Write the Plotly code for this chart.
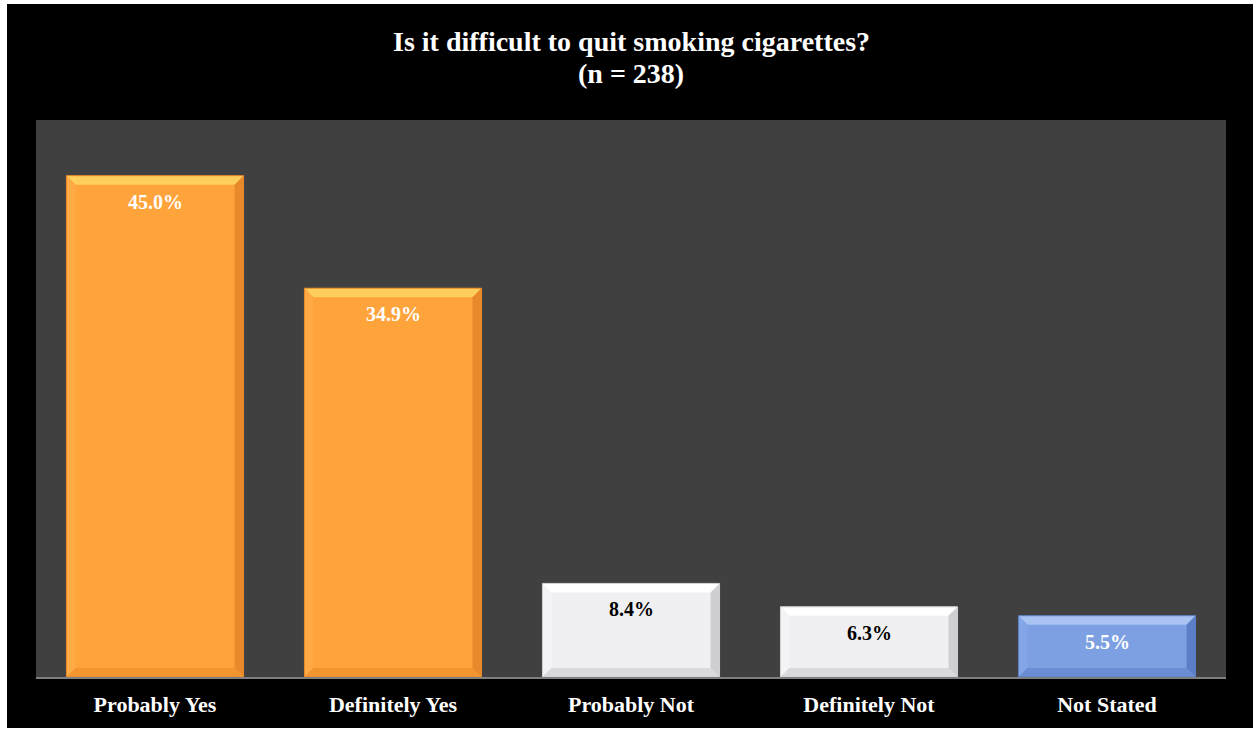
import plotly.graph_objects as go

categories = ["Probably Yes", "Definitely Yes", "Probably Not", "Definitely Not", "Not Stated"]
values = [45.0, 34.9, 8.4, 6.3, 5.5]
labels = ["45.0%", "34.9%", "8.4%", "6.3%", "5.5%"]
title_lines = ["Is it difficult to quit smoking cigarettes?", "(n = 238)"]

palette = {
    "orange": dict(main="#FFA33B", top="#FFCF5E", left="#FFAA44", right="#E8892B", bottom="#F2952F", text="white"),
    "white": dict(main="#F0F0F2", top="#FFFFFF", left="#F4F4F6", right="#CFCFD3", bottom="#DADADD", text="black"),
    "blue": dict(main="#7DA0E2", top="#A9C3F3", left="#84A6E6", right="#5B7FC6", bottom="#6A8DD3", text="white"),
}
bar_styles = ["orange", "orange", "white", "white", "blue"]

FONT = "Palatino Linotype, Book Antiqua, Palatino, Liberation Serif, serif"
W, H = 1246, 724
ML, MR, MT, MB = 29, 27, 116, 51
YMAX = 50
BW = 0.744

fig = go.Figure()
xs = list(range(len(categories)))
fig.add_trace(go.Bar(
    x=xs, y=values, width=BW,
    marker=dict(color=[palette[s]["main"] for s in bar_styles], line=dict(width=0)),
    hoverinfo="skip", showlegend=False,
))

plot_w = W - ML - MR
plot_h = H - MT - MB
px_x = len(categories) / plot_w
px_y = YMAX / plot_h
bev = 9
dx, dy = bev * px_x, bev * px_y

shapes = []
for i, (v, s) in enumerate(zip(values, bar_styles)):
    c = palette[s]
    x0, x1 = i - BW / 2, i + BW / 2
    def poly(pts, col):
        path = "M " + " L ".join(f"{x},{y}" for x, y in pts) + " Z"
        shapes.append(dict(type="path", path=path, fillcolor=col, line=dict(width=0), layer="above"))
    poly([(x0, v), (x1, v), (x1 - dx, v - dy), (x0 + dx, v - dy)], c["top"])
    poly([(x0, v), (x0 + dx, v - dy), (x0 + dx, dy), (x0, 0)], c["left"])
    poly([(x1, v), (x1 - dx, v - dy), (x1 - dx, dy), (x1, 0)], c["right"])
    poly([(x0, 0), (x1, 0), (x1 - dx, dy), (x0 + dx, dy)], c["bottom"])
    shapes.append(dict(type="rect", x0=x0, x1=x1, y0=0, y1=v,
                       line=dict(color=c["right"], width=1), layer="above"))

annotations = []
for i, (v, lab, s) in enumerate(zip(values, labels, bar_styles)):
    annotations.append(dict(
        x=i, y=v, text=f"<b>{lab}</b>", showarrow=False, yanchor="top",
        yshift=-13, font=dict(family=FONT, size=20, color=palette[s]["text"]),
    ))

title_y = [38, 69]
for t, ty in zip(title_lines, title_y):
    annotations.append(dict(
        xref="paper", yref="paper", x=0.5, xanchor="center",
        y=1 + (MT - ty) / plot_h, yanchor="middle", text=f"<b>{t}</b>", showarrow=False,
        font=dict(family=FONT, size=28, color="white"),
    ))

fig.update_layout(
    width=W, height=H,
    margin=dict(l=ML, r=MR, t=MT, b=MB, pad=0),
    paper_bgcolor="black", plot_bgcolor="#404040",
    xaxis=dict(tickvals=xs, ticktext=[f"<b>{c}</b>" for c in categories],
               range=[-0.5, len(categories) - 0.5], showgrid=False, zeroline=False,
               showline=True, linecolor="#7F7F7F", linewidth=2, ticks="",
               ticklabelstandoff=7,
               tickfont=dict(family=FONT, size=22, color="white")),
    yaxis=dict(range=[0, YMAX], showgrid=False, zeroline=False, showticklabels=False,
               showline=False, ticks=""),
    shapes=shapes, annotations=annotations,
    bargap=0.256,
)

fig.write_html("out.html", post_script=(
    "var d=document.getElementById('{plot_id}');"
    "d.style.marginLeft='7px';d.style.marginTop='4px';"
    "document.body.style.background='white';"
))
